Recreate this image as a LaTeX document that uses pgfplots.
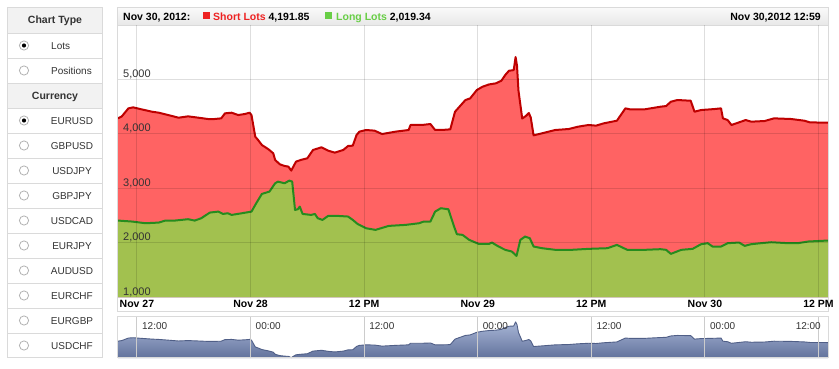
\documentclass[border=0pt]{standalone}
\usepackage{fontspec}
\setmainfont{Liberation Sans}
\usepackage{pgfplots}
\pgfplotsset{compat=1.18}
\usepackage{pgfplotstable}

\definecolor{redfill}{RGB}{255,99,99}
\definecolor{redline}{RGB}{190,0,0}
\definecolor{greenfill}{RGB}{162,193,79}
\definecolor{greenline}{RGB}{38,140,30}
\definecolor{legred}{RGB}{238,34,34}
\definecolor{leggreen}{RGB}{104,206,70}
\definecolor{navtop}{RGB}{168,182,214}
\definecolor{navbot}{RGB}{98,114,156}
\definecolor{navline}{RGB}{80,95,135}
\definecolor{frame}{RGB}{218,218,218}
\definecolor{panelhead}{RGB}{242,242,242}
\definecolor{txt}{RGB}{51,51,51}

\pgfplotstableread{
h v
10.0 4284
10.4 4320
11.1 4468
11.6 4486
12.5 4449
13.6 4406
14.3 4388
15.3 4345
16.4 4296
17.4 4321
18.5 4296
19.5 4272
20.2 4272
20.9 4284
21.3 4376
22.0 4388
22.7 4345
23.4 4364
23.9 4388
24.1 4345
24.5 3947
24.8 3886
25.2 3794
25.9 3715
26.4 3641
26.6 3519
27.1 3439
27.6 3409
28.0 3397
28.3 3323
28.8 3488
29.3 3519
30.0 3550
30.6 3703
31.5 3752
32.2 3690
32.9 3654
33.8 3703
34.3 3776
34.8 3782
35.2 3978
35.5 4039
36.2 4070
37.1 4058
37.9 3996
39.3 4039
40.7 4070
40.9 4162
42.1 4162
43.0 4180
43.5 4070
44.2 4070
45.1 4082
45.6 4406
46.7 4621
47.2 4651
47.9 4804
48.5 4865
49.2 4908
49.9 4927
50.5 4976
50.9 5080
51.3 5159
51.8 5171
52.0 5412
52.15 5250
52.3 4800
52.7 4280
53.1 4330
53.4 4382
53.6 4300
53.9 3972
54.8 4009
56.2 4070
57.6 4088
58.6 4131
59.7 4162
60.5 4150
61.3 4192
62.7 4241
63.6 4468
64.1 4449
65.6 4449
67.3 4498
67.9 4510
68.4 4590
69.1 4621
70.5 4608
70.9 4406
71.6 4437
73.0 4455
73.7 4468
73.9 4284
74.4 4253
74.8 4162
75.5 4204
76.3 4253
76.9 4223
78.3 4235
79.3 4284
81.1 4272
82.5 4241
83.1 4210
85.0 4204
}\shorttab

\pgfplotstableread{
h v
10.0 2405
11.5 2387
12.9 2356
14.3 2368
15.0 2405
16.0 2405
17.4 2430
18.1 2405
18.8 2448
19.7 2552
20.6 2570
21.1 2527
21.6 2540
22.0 2509
23.1 2540
24.1 2570
24.6 2723
25.2 2895
26.0 2938
26.6 3091
26.9 3121
27.6 3091
28.1 3140
28.4 3121
28.7 2601
29.0 2613
29.2 2662
29.5 2527
30.4 2509
30.8 2527
31.1 2448
31.6 2417
32.2 2491
33.2 2491
34.3 2479
34.8 2417
35.3 2344
36.2 2264
37.2 2234
38.6 2307
40.4 2326
41.8 2356
42.3 2387
43.0 2387
43.5 2570
44.1 2632
44.9 2613
45.5 2295
45.8 2154
46.4 2142
47.1 2050
48.1 1977
49.2 1977
49.5 2001
50.2 1928
50.9 1867
51.6 1836
52.1 1756
52.5 2050
53.0 2111
53.5 2081
53.9 1928
54.8 1897
56.2 1867
57.9 1867
59.7 1885
61.7 1897
62.7 1958
63.8 1867
65.6 1867
67.3 1879
67.9 1867
68.4 1793
69.5 1867
70.7 1885
71.6 1971
72.3 1989
72.8 1928
73.7 1928
74.4 1989
75.6 2001
76.2 1940
76.9 1971
77.9 1989
79.0 2007
80.8 1989
81.8 1989
82.9 2020
85.0 2038
}\longtab

\newcommand\fs{\fontsize{10.5}{12.6}\selectfont}
\newcommand\fsp{\fontsize{10}{12}\selectfont}

\begin{document}
\begin{tikzpicture}[x=1pt,y=1pt]
\useasboundingbox (0,0) rectangle (839,368);
\fill[white] (0,0) rectangle (839,368);

% ---------- left panel ----------
\fill[panelhead] (7,335) rectangle (103,361);
\fill[panelhead] (7,260) rectangle (103,285);
\foreach \yy in {335,310,285,260,235,210,185,160,135,110,85,60,35}
  \draw[frame] (7,\yy) -- (103,\yy);
\draw[frame] (7.5,10.5) rectangle (102.5,360.5);
\node[anchor=base, inner sep=0pt, text=txt] at (55,344.4) {\fs\bfseries Chart Type};
\node[anchor=base, inner sep=0pt, text=txt] at (55,268.9) {\fs\bfseries Currency};
\node[anchor=base west, inner sep=0pt, text=txt] at (51,318.9) {\fsp Lots};
\node[anchor=base west, inner sep=0pt, text=txt] at (51,293.9) {\fsp Positions};
\foreach \yy/\nm in {247.5/EURUSD,222.5/GBPUSD,197.5/USDJPY,172.5/GBPJPY,147.5/USDCAD,122.5/EURJPY,97.5/AUDUSD,72.5/EURCHF,47.5/EURGBP,22.5/USDCHF}
  \node[anchor=base, inner sep=0pt, text=txt] at (72,\yy-3.6) {\fsp \nm};
\foreach \yy in {322.5,297.5,247.5,222.5,197.5,172.5,147.5,122.5,97.5,72.5,47.5,22.5}
  \draw[gray!60, fill=white, line width=0.8pt] (24,\yy) circle (4.6);
\fill[black] (24,322.5) circle (2.1);
\fill[black] (24,247.5) circle (2.1);

% ---------- main chart frame & header ----------
\shade[top color=white!98!black, bottom color=white!91!black] (117.5,343) rectangle (828.5,360.5);
\draw[frame] (117.5,56.5) rectangle (828.5,360.5);
\draw[frame] (117.5,343) -- (828.5,343);
\node[anchor=base west, inner sep=0pt] at (123,348) {\fs\bfseries Nov 30, 2012:};
\fill[legred] (202.5,349) rectangle (209.5,356);
\node[anchor=base west, inner sep=0pt, text=legred] at (213,348) {\fs\bfseries Short Lots \textcolor{black}{4,191.85}};
\fill[leggreen] (324.5,349) rectangle (331.5,356);
\node[anchor=base west, inner sep=0pt, text=leggreen] at (336,348) {\fs\bfseries Long Lots \textcolor{black}{2,019.34}};
\node[anchor=base east, inner sep=0pt] at (821,348) {\fs\bfseries Nov 30,2012 12:59};

% ---------- main axis ----------
\begin{axis}[
  at={(118pt,71pt)}, anchor=south west,
  width=710pt, height=272pt, scale only axis,
  xmin=10, xmax=85, ymin=1000, ymax=6000,
  axis on top,
  axis line style={draw=none},
  major tick length=0pt,
  xtick={12,24,36,48,60,72,84},
  xticklabels={Nov 27,Nov 28,12 PM,Nov 29,12 PM,Nov 30,12 PM},
  ytick={1000,2000,3000,4000,5000},
  yticklabels={{1,000},{2,000},{3,000},{4,000},{5,000}},
  xticklabel style={font=\fs\bfseries, anchor=north, inner sep=0pt, yshift=-3pt},
  yticklabel style={font=\fontsize{11}{12}\selectfont, text=txt, anchor=base west, inner sep=0pt, xshift=5pt, yshift=2pt},
  grid=major,
  major grid style={black, opacity=0.13, line width=1pt},
  /pgf/number format/assume math mode=true,
]
\addplot[fill=redfill, draw=none] table[x=h,y=v] {\shorttab} \closedcycle;
\addplot[draw=redline, line width=2pt, line join=round] table[x=h,y=v] {\shorttab};
\addplot[fill=greenfill, draw=none] table[x=h,y=v] {\longtab} \closedcycle;
\addplot[draw=greenline, line width=2pt, line join=round] table[x=h,y=v] {\longtab};
\end{axis}

% ---------- navigator ----------
\begin{axis}[
  at={(118pt,10pt)}, anchor=south west,
  width=710pt, height=41pt, scale only axis,
  xmin=10, xmax=85, ymin=3300, ymax=5700,
  axis on top,
  axis line style={draw=none},
  major tick length=0pt,
  ytick=\empty,
  xtick={12,24,36,48,60,72,84},
  xticklabels={12:00,00:00,12:00,00:00,12:00,00:00,{}},
  xticklabel pos=upper,
  xticklabel style={font=\fsp, text=txt, anchor=north west, inner sep=0pt, xshift=5pt, yshift=-5pt},
  xmajorgrids,
  major grid style={gray!40, line width=1pt},
]
\addplot[draw=none, top color=navtop, bottom color=navbot] table[x=h,y=v] {\shorttab} -- (axis cs:85,3300) -- (axis cs:10,3300) -- cycle;
\addplot[draw=navline, line width=0.9pt, line join=round] table[x=h,y=v] {\shorttab};
\end{axis}
\node[anchor=north east, inner sep=0pt, text=txt] at (821,46) {\fsp 12:00};
\draw[frame] (117.5,10.5) rectangle (828.5,51.5);
\end{tikzpicture}
\end{document}
